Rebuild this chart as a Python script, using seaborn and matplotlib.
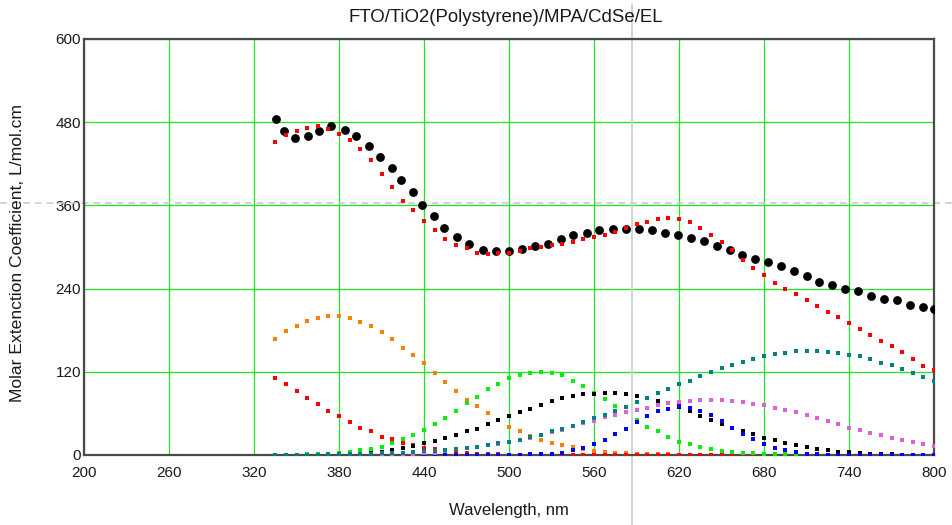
import matplotlib
matplotlib.use("Agg")
import matplotlib.pyplot as plt
import numpy as np
import pandas as pd
import seaborn as sns

# ---------------- data ----------------
TITLE = "FTO/TiO2(Polystyrene)/MPA/CdSe/EL"
XLABEL = "Wavelength, nm"
YLABEL = "Molar Extenction Coefficient, L/mol.cm"
XTICKS = [200, 260, 320, 380, 440, 500, 560, 620, 680, 740, 800]
YTICKS = [0, 120, 240, 360, 480, 600]

# measured spectrum (black dots)
MEAS_WL = [335.3, 341.2, 348.7, 357.9, 365.6, 374.5, 384.0, 392.2, 401.4, 408.9,
           417.4, 424.0, 432.2, 438.8, 447.0, 453.9, 463.1, 472.0, 481.4, 490.8,
           499.8, 509.2, 518.1, 527.5, 536.5, 545.4, 554.8, 563.7, 573.2, 582.6,
           591.5, 600.9, 610.3, 619.3, 628.2, 637.6, 646.8, 656.0, 664.2, 673.4,
           682.6, 691.8, 701.2, 710.2, 718.6, 727.8, 737.0, 746.1, 755.3, 764.5,
           773.7, 782.8, 792.0, 800.2]
MEAS_VAL = [485, 467, 457, 460, 468, 474, 469, 460, 445, 430,
            414, 397, 379, 360, 344, 327, 314, 304, 296, 294,
            294, 297, 302, 305, 311, 317, 320, 324, 326, 326,
            326, 324, 320, 317, 313, 309, 302, 296, 289, 283,
            278, 272, 265, 258, 250, 245, 240, 236, 230, 225,
            223, 217, 214, 210]

# wavelength grid of fit and components
FIT_WL = [335, 342.5, 350, 357.5, 365, 372.5, 380, 387.5, 395, 402.5,
          410, 417.5, 425, 432.5, 440, 447.5, 455, 462.5, 470, 477.5,
          485, 492.5, 500, 507.5, 515, 522.5, 530, 537.5, 545, 552.5,
          560, 567.5, 575, 582.5, 590, 597.5, 605, 612.5, 620, 627.5,
          635, 642.5, 650, 657.5, 665, 672.5, 680, 687.5, 695, 702.5,
          710, 717.5, 725, 732.5, 740, 747.5, 755, 762.5, 770, 777.5,
          785, 792.5, 800]

FIT = [452, 461, 468, 472, 474, 470, 463, 454, 441, 426,
       406, 387, 367, 353, 338, 325, 312, 303, 298, 292,
       290, 291, 292, 294, 298, 300, 303, 305, 307, 311,
       314, 318, 322, 327, 333, 336, 340, 342, 340, 336,
       327, 318, 307, 295, 281, 270, 260, 248, 239, 232,
       223, 215, 206, 199, 191, 182, 173, 164, 157, 148,
       138, 129, 122]

ORANGE = [168, 179, 186, 193, 197, 200, 200, 197, 192, 186,
          177, 168, 155, 144, 132, 118, 106, 93, 80, 71,
          60, 51, 41, 34, 27, 22, 18, 14, 11, 8,
          6, 4.5, 3.5, 2.5, 2, 1.5, 1, 1, 0.5, 0.5,
          0.5, 0, 0, 0, 0, 0, 0, 0, 0, 0,
          0, 0, 0, 0, 0, 0, 0, 0, 0, 0,
          0, 0, 0]

RED_UV = [111, 102, 93, 82, 73, 64, 56, 47, 39, 34,
          26, 23, 18, 14, 10, 8, 6, 4.3, 2.4, 1.9,
          1, 1, 0.5, 0.5, 0.5, 0.5, 0.5, 0.5, 0.5, 0.5,
          0.5, 0.5, 0.5, 0.5, 0.5, 0.5, 0.5, 0.5, 0.5, 0.5,
          0.5, 0.5, 0.5, 0.5, 0.5, 0.5, 0.5, 0.5, 0.5, 0.5,
          0.5, 0.5, 0.5, 0.5, 0.5, 0.5, 0.5, 0.5, 0.5, 0.5,
          0.5, 0.5, 0.5]

GREEN = [0, 0, 0, 1, 1, 1, 3, 5, 7, 9,
         12, 18, 23, 29, 36, 45, 54, 64, 75, 84,
         95, 102, 111, 115, 118, 120, 118, 115, 107, 100,
         90, 81, 71, 62, 50, 41, 34, 26, 19, 16,
         11.5, 8, 5.3, 3.8, 3.4, 2.4, 2, 1.5, 1, 1,
         0.5, 0.5, 0, 0, 0, 0, 0, 0, 0, 0,
         0, 0, 0]

BLACK_COMP = [0, 0, 0, 0, 0, 0, 0, 0.5, 1.5, 3,
              5, 7.5, 10, 13.5, 17, 20.5, 25, 29, 34.6, 38,
              45, 50, 56, 61.6, 66.8, 72.6, 78, 81.7, 85, 87.5,
              88.5, 89, 89, 87.5, 85.6, 81.7, 78, 74.5, 69, 63.5,
              55.8, 50, 45, 39.4, 34, 30, 25, 21.5, 17.3, 14.2,
              11.5, 8.7, 6.7, 4.8, 4.3, 2.9, 1.9, 1, 0.8, 0.5,
              0.4, 0.3, 0.2]

BLUE = [0, 0, 0, 0, 0, 0, 0, 0, 0.3, 0.3,
        0.3, 0.3, 0.3, 0.3, 0.3, 0.3, 0.3, 0.3, 0.3, 0.3,
        0.3, 0.5, 0.5, 0.7, 0.8, 1, 1.4, 3.4, 6.7, 10.6,
        15.9, 21.2, 30.3, 37.5, 48, 56.3, 63.5, 66.8, 70, 68.3,
        63.5, 57.5, 49, 39, 29.8, 23, 15.4, 10.1, 6.7, 4.5,
        1.9, 1, 0.5, 0.3, 0.3, 0.3, 0.3, 0.3, 0.3, 0.3,
        0.3, 0.3, 0.3]

MAGENTA = [0, 0, 0, 0, 0, 0, 0, 0, 0, 0.5,
           1, 1, 1.4, 1.9, 2.5, 3.5, 5.3, 8.7, 10, 12,
           14, 15.9, 19.2, 21.2, 24.5, 28.4, 32.7, 36.5, 41.3, 45.7,
           49, 54.3, 58.2, 61.6, 64.9, 68.3, 72.6, 74.5, 76, 77.9,
           79.5, 79.8, 79.5, 77.6, 76.2, 74, 72.3, 68.5, 64.9, 61.6,
           57.7, 53.8, 49, 44.7, 39.4, 36, 31.7, 28.4, 24.5, 21.6,
           18.8, 15.9, 13.4]

TEAL = [0.2, 0.3, 0.4, 0.5, 0.6, 0.8, 1, 1.3, 1.6, 2,
        2.4, 3, 3.6, 4.4, 5.2, 6.2, 7.4, 8.8, 10.4, 12.2,
        14.2, 16.6, 19.2, 22, 25.3, 28.8, 34, 37, 42, 47,
        53, 58, 63.5, 69, 76, 82, 89, 95, 102, 107,
        114, 120, 125.5, 129.4, 134.6, 138.5, 142.4, 145.7, 147.6, 149.6,
        150, 149.6, 148, 147.6, 144.2, 142.4, 138.5, 132.7, 129.4, 124,
        118.3, 113, 107]

CURSOR_X = 586.8
CURSOR_Y = 364

COMPONENTS = [
    ("orange", ORANGE, "#FF8000"),
    ("red", RED_UV, "#FF0000"),
    ("green", GREEN, "#00F000"),
    ("black", BLACK_COMP, "#000000"),
    ("blue", BLUE, "#0000FF"),
    ("magenta", MAGENTA, "#E060D8"),
    ("teal", TEAL, "#008080"),
]

# ---------------- plot ----------------
sns.set_style("white")
plt.rcParams["font.family"] = ["Liberation Sans", "DejaVu Sans"]

W, H = 952, 525
fig = plt.figure(figsize=(W / 100, H / 100), dpi=100)
L, R, T, B = 84, 934, 39, 455
ax = fig.add_axes([L / W, 1 - B / H, (R - L) / W, (B - T) / H])

ax.set_xlim(200, 800)
ax.set_ylim(0, 600)
ax.set_xticks(XTICKS)
ax.set_yticks(YTICKS)
ax.grid(True, color="#1EE61E", lw=0.9)
ax.set_axisbelow(True)
ax.tick_params(axis="x", length=0, pad=8, labelsize=11, colors="#1a1a1a")
ax.tick_params(axis="y", length=0, pad=2, labelsize=11, colors="#1a1a1a")
for s in ax.spines.values():
    s.set_color("#4a4a4a")
    s.set_linewidth(1.6)
    s.set_visible(True)

# cursor lines
ax.axvline(CURSOR_X, ymin=-(H - B) / (B - T), ymax=1 + (T - 4) / (B - T),
           clip_on=False, color="#d0d0d0", lw=1.3, zorder=1.5)
ax.axhline(CURSOR_Y, xmin=-L / (R - L), xmax=(W - L) / (R - L), clip_on=False,
           color="#cccccc", lw=1.2, ls=(0, (4, 3)), zorder=1.5)

meas = pd.DataFrame({"wl": MEAS_WL, "val": MEAS_VAL})
sns.scatterplot(data=meas, x="wl", y="val", ax=ax, color="black", marker="o",
                s=40, linewidth=0, zorder=3, legend=False)

fit = pd.DataFrame({"wl": FIT_WL, "val": FIT})
sns.scatterplot(data=fit, x="wl", y="val", ax=ax, color="#FF0000", marker="s",
                s=11, linewidth=0, zorder=4, legend=False)

for i, (name, vals, col) in enumerate(COMPONENTS):
    d = pd.DataFrame({"wl": FIT_WL, "val": vals})
    sns.scatterplot(data=d, x="wl", y="val", ax=ax, color=col, marker="s",
                    s=11, linewidth=0, zorder=4 + i * 0.1, legend=False)

ax.set_xlabel("")
ax.set_ylabel("")

fig.text(506 / W, 1 - 17 / H, TITLE, ha="center", va="center", fontsize=13.4,
         color="#1a1a1a")
fig.text(509 / W, 1 - 510 / H, XLABEL, ha="center", va="center", fontsize=12,
         color="#1a1a1a")
fig.text(18 / W, 1 - 253 / H, YLABEL, ha="center", va="center", fontsize=12.6,
         rotation=90, color="#1a1a1a")

fig.savefig("out.png", dpi=100)
